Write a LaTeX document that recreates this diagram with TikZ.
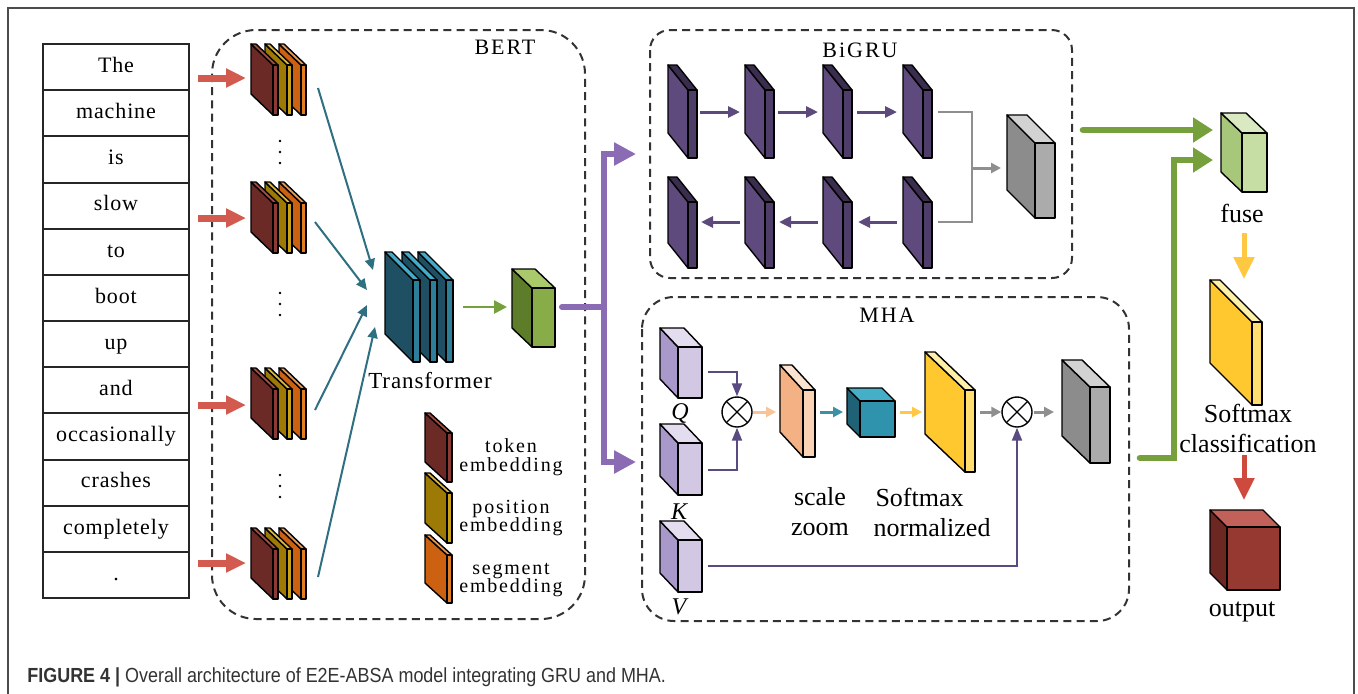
\documentclass[tikz,border=0pt]{standalone}
\usepackage{fontspec}
\setmainfont{Liberation Serif}
\newfontfamily\spfont[LetterSpace=4]{Liberation Serif}
\newfontfamily\wspfont[LetterSpace=9]{Liberation Serif}
\newfontfamily\capfont[FakeStretch=0.88]{Liberation Sans}
\usetikzlibrary{arrows.meta}

\definecolor{tokS}{HTML}{6B2A26}\definecolor{tokF}{HTML}{8C3A33}\definecolor{tokT}{HTML}{A84C44}
\definecolor{posS}{HTML}{9C7A05}\definecolor{posF}{HTML}{C9A215}\definecolor{posT}{HTML}{DDB83C}
\definecolor{segS}{HTML}{CC6112}\definecolor{segF}{HTML}{E27D22}\definecolor{segT}{HTML}{EE9A4E}
\definecolor{trS}{HTML}{1E4F63}\definecolor{trF}{HTML}{2D7E99}\definecolor{trT}{HTML}{45AAC9}
\definecolor{gcF}{HTML}{88AD48}\definecolor{gcS}{HTML}{5E7D2B}\definecolor{gcT}{HTML}{A9C96A}
\definecolor{puS}{HTML}{5F4A7D}\definecolor{puF}{HTML}{4E3D68}\definecolor{puT}{HTML}{3A2D4E}
\definecolor{grF}{HTML}{ABABAB}\definecolor{grS}{HTML}{8C8C8C}\definecolor{grT}{HTML}{D2D2D2}
\definecolor{qkF}{HTML}{D2C8E4}\definecolor{qkS}{HTML}{A999CB}\definecolor{qkT}{HTML}{E4DDF0}
\definecolor{scS}{HTML}{F4B183}\definecolor{scF}{HTML}{FAD3B4}\definecolor{scT}{HTML}{FCE3CF}
\definecolor{tcF}{HTML}{2F93AD}\definecolor{tcS}{HTML}{1F6275}\definecolor{tcT}{HTML}{45AFC8}
\definecolor{ySide}{HTML}{FFC82E}\definecolor{yFront}{HTML}{FFDD6E}\definecolor{yTop}{HTML}{FFF0A8}
\definecolor{fuF}{HTML}{C6DDA3}\definecolor{fuS}{HTML}{A7C77A}\definecolor{fuT}{HTML}{D9EAC2}
\definecolor{ouF}{HTML}{963A31}\definecolor{ouS}{HTML}{6C2723}\definecolor{ouT}{HTML}{C2605A}
\definecolor{redA}{HTML}{D35A4E}\definecolor{tealA}{HTML}{2F6F82}\definecolor{greenA}{HTML}{76A03C}
\definecolor{purA}{HTML}{8B6BB3}\definecolor{gruA}{HTML}{5C4A7C}\definecolor{grayA}{HTML}{8F8F8F}
\definecolor{orA}{HTML}{F8C396}\definecolor{tlA}{HTML}{3A90A6}\definecolor{ylA}{HTML}{FFC842}
\definecolor{qvA}{HTML}{5A4A82}\definecolor{outA}{HTML}{CE4A3E}\definecolor{capC}{HTML}{333333}

\newcommand\cub[9]{%
  \filldraw[cubeline,fill=#8] ({#1},{#2}) -- ({(#1)-(#5)},{(#2)-(#6)}) -- ({(#1)-(#5)},{(#4)-(#6)}) -- ({#1},{#4}) -- cycle;
  \filldraw[cubeline,fill=#9] ({#1},{#2}) -- ({(#1)-(#5)},{(#2)-(#6)}) -- ({(#3)-(#5)},{(#2)-(#6)}) -- ({#3},{#2}) -- cycle;
  \filldraw[cubeline,fill=#7] ({#1},{#2}) rectangle ({#3},{#4});}
\newcommand\slab[9]{\cub{(#1)+(#3)}{(#2)+(#4)}{(#1)+(#3)+(#5)}{(#2)+(#4)+(#6)}{#3}{#4}{#7}{#8}{#9}}

\tikzset{
  cubeline/.style={draw=black,line width=0.7pt,line join=round},
  dbox/.style={draw=black!80,line width=1pt,dash pattern=on 4pt off 2.6pt},
  wordbox/.style={draw=black!85,line width=1pt,minimum width=73pt,minimum height=23.08pt,
    inner sep=0pt,outer sep=0pt,font=\spfont\fontsize{11}{13}\selectfont,text height=7.5pt,text depth=2.2pt},
  lbl/.style={inner sep=0pt,font=\wspfont\fontsize{11}{13}\selectfont},
  leg/.style={inner sep=0pt,align=center,font=\wspfont\fontsize{10}{9.3}\selectfont},
  big/.style={inner sep=0pt,align=center,font=\fontsize{13}{15}\selectfont},
  redarrow/.style={redA,line width=3.5pt,-{Triangle[length=10pt,width=9pt]}},
  tealarrow/.style={tealA,line width=1pt,-{Triangle[length=5.5pt,width=5pt]}},
  purarrow/.style={purA,line width=3pt,line cap=round,-{Triangle[length=11pt,width=11pt]}},
  grnarrow/.style={greenA,line width=3.3pt,line cap=round,-{Triangle[length=10pt,width=12pt]}},
  grusmall/.style={gruA,line width=1.5pt,-{Triangle[length=6pt,width=5.5pt]}},
  smallarr/.style={line width=1.5pt,-{Triangle[length=5pt,width=5pt]}},
  qvline/.style={qvA,line width=1pt,-{Triangle[length=6.5pt,width=5pt]}},
  downarr/.style={line width=2.5pt,-{Triangle[length=11pt,width=10pt]}},
  otimes/.style={circle,draw=black,line width=0.7pt,minimum size=15pt,inner sep=0pt,fill=white,
    path picture={\draw[line width=0.6pt] (path picture bounding box.north west) -- (path picture bounding box.south east)
      (path picture bounding box.north east) -- (path picture bounding box.south west);}}
}

\begin{document}
\begin{tikzpicture}[x=0.5pt,y=-0.5pt]
\useasboundingbox (0,0) rectangle (1358,693);
\fill[white] (0,0) rectangle (1358,693);
% outer frame
\draw[black!70,line width=0.7pt] (8,8) rectangle (1354,720);

% dashed group boxes
\draw[dbox,rounded corners=22pt] (212,30) rectangle (585,619);
\draw[dbox,rounded corners=10pt] (650,30) rectangle (1072,278);
\draw[dbox,rounded corners=16pt] (642,297) rectangle (1129,621);

% word column
\foreach \w [count=\i] in {The,machine,is,slow,to,boot,up,and,occasionally,crashes,completely,.}
  \node[wordbox] (w\i) at (116,{44+46.17*(\i-0.5)}) {\w};

% embedding stacks
\foreach \yy in {44,182,368,528}{
  \slab{279}{\yy}{22}{21}{5}{50}{segF}{segS}{segT}
  \slab{265}{\yy}{22}{21}{5}{50}{posF}{posS}{posT}
  \slab{251}{\yy}{22}{21}{5}{50}{tokF}{tokS}{tokT}
}
% vertical dots
\foreach \yy in {152,304,486}{
  \foreach \d in {-11,0,11} \fill (280,\yy+\d) circle (1.4);
}

% red input arrows
\foreach \yy [count=\i] in {78,218,405,563}{
  \coordinate (rs\i) at (198,\yy);
  \coordinate (re\i) at (246,\yy);
  \draw[redarrow] (rs\i) -- (re\i);
}

% transformer
\slab{418}{252}{28}{28}{7}{82}{trF}{trS}{trT}
\slab{402}{252}{28}{28}{7}{82}{trF}{trS}{trT}
\slab{385}{252}{28}{28}{7}{82}{trF}{trS}{trT}
\node[lbl,font=\spfont\fontsize{11.5}{13}\selectfont] (trlabel) at (430,380) {Transformer};

% teal arrows into transformer
\coordinate (ts1) at (318,88);  \coordinate (te1) at (373,270);
\coordinate (ts2) at (315,222); \coordinate (te2) at (367,290);
\coordinate (ts3) at (315,410); \coordinate (te3) at (367,305);
\coordinate (ts4) at (318,577); \coordinate (te4) at (375,327);
\foreach \i in {1,2,3,4} \draw[tealarrow] (ts\i) -- (te\i);

% green arrow and green cube
\coordinate (trout) at (463,307); \coordinate (gcin) at (507,307);
\draw[greenA,line width=1.3pt,-{Triangle[length=6.5pt,width=6.5pt]}] (trout) -- (gcin);
\cub{532}{288}{555}{347}{20}{19}{gcF}{gcS}{gcT}

% legend
\slab{425}{413}{22}{20}{5}{49}{tokF}{tokS}{tokT}
\slab{425}{473}{22}{20}{5}{50}{posF}{posS}{posT}
\slab{425}{535}{22}{20}{5}{48}{segF}{segS}{segT}
\node[leg] (legtok) at (511,457) {token\\embedding};
\node[leg] (legpos) at (511,518) {position\\embedding};
\node[leg] (legseg) at (511,580) {segment\\embedding};

% BERT label
\node[lbl] (bertlabel) at (505,47) {BERT};

% purple split
\coordinate (pstart) at (562,307); \coordinate (pj) at (604,307);
\coordinate (gruin) at (636,154); \coordinate (mhain) at (636,462);
\draw[purA,line width=3pt,line cap=round] (pstart) -- (pj);
\draw[purarrow,line cap=butt] (pj) |- (gruin);
\draw[purarrow,line cap=butt] (pj) |- (mhain);

% BiGRU
\node[lbl] (grulabel) at (860,50) {BiGRU};
\foreach \xx in {668,745,823,903}{
  \slab{\xx}{65}{20}{25}{9}{68}{puF}{puS}{puT}
  \slab{\xx}{177}{20}{25}{9}{66}{puF}{puS}{puT}
}
\coordinate (ga1) at (700,112); \coordinate (gb1) at (740,112);
\coordinate (ga2) at (778,112); \coordinate (gb2) at (818,112);
\coordinate (ga3) at (857,112); \coordinate (gb3) at (897,112);
\coordinate (gc1) at (740,222); \coordinate (gd1) at (701,222);
\coordinate (gc2) at (818,222); \coordinate (gd2) at (779,222);
\coordinate (gc3) at (897,222); \coordinate (gd3) at (858,222);
\foreach \i in {1,2,3}{
  \draw[grusmall] (ga\i) -- (gb\i);
  \draw[grusmall] (gc\i) -- (gd\i);
}
\coordinate (gt) at (938,112); \coordinate (gbt) at (938,222);
\coordinate (gm) at (972,168); \coordinate (gmi) at (1001,168);
\draw[grayA,line width=1.3pt] (gt) -| (gm) |- (gbt);
\draw[grayA,smallarr] (gm) -- (gmi);
\cub{1035}{143}{1055}{218}{28}{28}{grF}{grS}{grT}

% MHA
\node[lbl] (mhalabel) at (887,315) {MHA};
\cub{678}{347}{702}{398}{18}{19}{qkF}{qkS}{qkT}
\cub{678}{443}{702}{495}{18}{19}{qkF}{qkS}{qkT}
\cub{678}{540}{702}{592}{18}{19}{qkF}{qkS}{qkT}
\node[inner sep=0pt,font=\itshape\fontsize{12}{13}\selectfont] (qlab) at (680,413) {Q};
\node[inner sep=0pt,font=\itshape\fontsize{12}{13}\selectfont] (klab) at (679,512) {K};
\node[inner sep=0pt,font=\itshape\fontsize{12}{13}\selectfont] (vlab) at (679,607) {V};

\node[otimes] (m1) at (737,412) {};
\node[otimes] (m2) at (1017,412) {};
\coordinate (qo) at (708,372); \coordinate (ko) at (708,470); \coordinate (vo) at (708,566);
\draw[qvline] (qo) -| (m1.north);
\draw[qvline] (ko) -| (m1.south);
\draw[qvline] (vo) -| (m2.south);

\slab{780}{365}{23}{25}{12}{67}{scF}{scS}{scT}
\cub{860}{401}{895}{437}{13}{13}{tcF}{tcS}{tcT}
\slab{925}{352}{40}{38}{10}{82}{yFront}{ySide}{yTop}
\cub{1090}{387}{1110}{463}{28}{27}{grF}{grS}{grT}

\coordinate (oa) at (753,412); \coordinate (ob) at (776,412);
\coordinate (ta) at (820,412); \coordinate (tb) at (843,412);
\coordinate (ya) at (900,412); \coordinate (yb) at (922,412);
\coordinate (ka) at (980,412);
\coordinate (kb) at (1054,412);
\draw[orA,smallarr] (oa) -- (ob);
\draw[tlA,smallarr] (ta) -- (tb);
\draw[ylA,smallarr] (ya) -- (yb);
\draw[grayA,smallarr] (ka) -- (m2.west);
\draw[grayA,smallarr] ([xshift=0.5pt]m2.east) -- (kb);

\node[big] (scalelab) at (820,512) {scale\\zoom};
\node[big,align=left] (smlab) at (932,512) {\hspace*{1pt}Softmax\\normalized};

% fuse and output column
\coordinate (gruout) at (1083,130); \coordinate (fin1) at (1213,130);
\coordinate (mhaout) at (1140,458); \coordinate (gcor) at (1174,160); \coordinate (fin2) at (1213,160);
\draw[grnarrow] (gruout) -- (fin1);
\draw[grnarrow] (mhaout) -| (gcor) -- (fin2);
\cub{1242}{133}{1267}{192}{21}{20}{fuF}{fuS}{fuT}
\node[big] (fuselab) at (1242,213) {fuse};
\coordinate (ya1) at (1244,233); \coordinate (yb1) at (1244,279);
\draw[ylA,downarr] (ya1) -- (yb1);
\slab{1210}{280}{42}{42}{10}{83}{yFront}{ySide}{yTop}
\node[big] (smclab) at (1248,428) {Softmax\\classification};
\coordinate (ra1) at (1244,455); \coordinate (rb1) at (1244,500);
\draw[outA,downarr] (ra1) -- (rb1);
\cub{1227}{527}{1280}{590}{17}{17}{ouF}{ouS}{ouT}
\node[big] (outlab) at (1242,612) {output};

% caption
\node[anchor=west,inner sep=0pt,text=capC,font=\capfont\fontsize{10.2}{12}\selectfont] (caption) at (27,677)
  {\textbf{FIGURE 4 |} Overall architecture of E2E-ABSA model integrating GRU and MHA.};
\end{tikzpicture}
\end{document}
